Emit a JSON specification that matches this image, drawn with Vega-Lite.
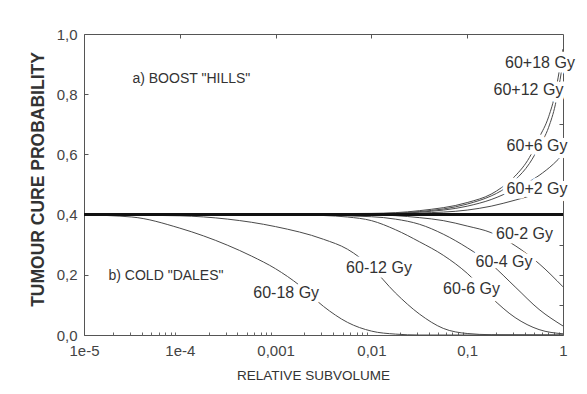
{
  "$schema": "https://vega.github.io/schema/vega-lite/v6.json",
  "autosize": "none",
  "width": 479,
  "height": 301,
  "padding": {"left": 84, "top": 34, "right": 24, "bottom": 59},
  "background": "white",
  "config": {
    "view": {"stroke": "#555", "strokeWidth": 1},
    "font": "Liberation Sans"
  },
  "datasets": {
    "curves": [
      {"s": "60-18", "v": 1e-5, "p": 0.399},
      {"s": "60-18", "v": 3.162e-5, "p": 0.392},
      {"s": "60-18", "v": 1e-4, "p": 0.355},
      {"s": "60-18", "v": 3.162e-4, "p": 0.298},
      {"s": "60-18", "v": 5.623e-4, "p": 0.262},
      {"s": "60-18", "v": 0.001, "p": 0.22},
      {"s": "60-18", "v": 0.001778, "p": 0.165},
      {"s": "60-18", "v": 0.003162, "p": 0.095},
      {"s": "60-18", "v": 0.005623, "p": 0.042},
      {"s": "60-18", "v": 0.01, "p": 0.013},
      {"s": "60-18", "v": 0.01778, "p": 0.003},
      {"s": "60-18", "v": 0.03162, "p": 0.0},
      {"s": "60-18", "v": 1, "p": 0.0},
      {"s": "60-12", "v": 1e-5, "p": 0.4},
      {"s": "60-12", "v": 1e-4, "p": 0.396},
      {"s": "60-12", "v": 3.162e-4, "p": 0.385},
      {"s": "60-12", "v": 0.001, "p": 0.36},
      {"s": "60-12", "v": 0.003162, "p": 0.318},
      {"s": "60-12", "v": 0.005623, "p": 0.285},
      {"s": "60-12", "v": 0.01, "p": 0.225},
      {"s": "60-12", "v": 0.01778, "p": 0.14},
      {"s": "60-12", "v": 0.03162, "p": 0.07},
      {"s": "60-12", "v": 0.05623, "p": 0.022},
      {"s": "60-12", "v": 0.1, "p": 0.005},
      {"s": "60-12", "v": 0.1778, "p": 0.001},
      {"s": "60-12", "v": 1, "p": 0.0},
      {"s": "60-6", "v": 1e-5, "p": 0.4},
      {"s": "60-6", "v": 0.001, "p": 0.4},
      {"s": "60-6", "v": 0.003162, "p": 0.397},
      {"s": "60-6", "v": 0.005623, "p": 0.392},
      {"s": "60-6", "v": 0.01, "p": 0.38},
      {"s": "60-6", "v": 0.01778, "p": 0.35},
      {"s": "60-6", "v": 0.03162, "p": 0.31},
      {"s": "60-6", "v": 0.05623, "p": 0.265},
      {"s": "60-6", "v": 0.1, "p": 0.205},
      {"s": "60-6", "v": 0.1778, "p": 0.125},
      {"s": "60-6", "v": 0.3162, "p": 0.058},
      {"s": "60-6", "v": 0.5623, "p": 0.018},
      {"s": "60-6", "v": 1, "p": 0.004},
      {"s": "60-4", "v": 1e-5, "p": 0.4},
      {"s": "60-4", "v": 0.001, "p": 0.4},
      {"s": "60-4", "v": 0.01, "p": 0.393},
      {"s": "60-4", "v": 0.01778, "p": 0.385},
      {"s": "60-4", "v": 0.03162, "p": 0.368},
      {"s": "60-4", "v": 0.05623, "p": 0.335},
      {"s": "60-4", "v": 0.1, "p": 0.29},
      {"s": "60-4", "v": 0.1778, "p": 0.235},
      {"s": "60-4", "v": 0.3162, "p": 0.16},
      {"s": "60-4", "v": 0.5623, "p": 0.085},
      {"s": "60-4", "v": 1, "p": 0.03},
      {"s": "60-2", "v": 1e-5, "p": 0.4},
      {"s": "60-2", "v": 0.01, "p": 0.399},
      {"s": "60-2", "v": 0.03162, "p": 0.39},
      {"s": "60-2", "v": 0.05623, "p": 0.38},
      {"s": "60-2", "v": 0.1, "p": 0.362},
      {"s": "60-2", "v": 0.1778, "p": 0.34},
      {"s": "60-2", "v": 0.3162, "p": 0.297},
      {"s": "60-2", "v": 0.5623, "p": 0.237},
      {"s": "60-2", "v": 1, "p": 0.16},
      {"s": "60+2", "v": 1e-5, "p": 0.4},
      {"s": "60+2", "v": 0.01, "p": 0.401},
      {"s": "60+2", "v": 0.03162, "p": 0.405},
      {"s": "60+2", "v": 0.1, "p": 0.415},
      {"s": "60+2", "v": 0.1778, "p": 0.428},
      {"s": "60+2", "v": 0.3162, "p": 0.448},
      {"s": "60+2", "v": 0.5623, "p": 0.47},
      {"s": "60+2", "v": 1, "p": 0.49},
      {"s": "60+6", "v": 1e-5, "p": 0.4},
      {"s": "60+6", "v": 0.01, "p": 0.402},
      {"s": "60+6", "v": 0.03162, "p": 0.408},
      {"s": "60+6", "v": 0.1, "p": 0.428},
      {"s": "60+6", "v": 0.1778, "p": 0.45},
      {"s": "60+6", "v": 0.3162, "p": 0.485},
      {"s": "60+6", "v": 0.5623, "p": 0.53},
      {"s": "60+6", "v": 0.7943, "p": 0.568},
      {"s": "60+6", "v": 1, "p": 0.60},
      {"s": "60+12", "v": 1e-5, "p": 0.4},
      {"s": "60+12", "v": 0.01, "p": 0.403},
      {"s": "60+12", "v": 0.03162, "p": 0.41},
      {"s": "60+12", "v": 0.1, "p": 0.435},
      {"s": "60+12", "v": 0.1778, "p": 0.462},
      {"s": "60+12", "v": 0.2291, "p": 0.48},
      {"s": "60+12", "v": 0.3162, "p": 0.515},
      {"s": "60+12", "v": 0.4467, "p": 0.57},
      {"s": "60+12", "v": 0.5623, "p": 0.625},
      {"s": "60+12", "v": 0.7079, "p": 0.69},
      {"s": "60+12", "v": 0.8318, "p": 0.765},
      {"s": "60+12", "v": 0.912, "p": 0.83},
      {"s": "60+12", "v": 1, "p": 0.91},
      {"s": "60+18", "v": 1e-5, "p": 0.4},
      {"s": "60+18", "v": 0.01, "p": 0.404},
      {"s": "60+18", "v": 0.03162, "p": 0.413},
      {"s": "60+18", "v": 0.1, "p": 0.44},
      {"s": "60+18", "v": 0.1778, "p": 0.468},
      {"s": "60+18", "v": 0.2291, "p": 0.49},
      {"s": "60+18", "v": 0.3162, "p": 0.528},
      {"s": "60+18", "v": 0.4467, "p": 0.59},
      {"s": "60+18", "v": 0.5623, "p": 0.655},
      {"s": "60+18", "v": 0.7079, "p": 0.725},
      {"s": "60+18", "v": 0.8318, "p": 0.805},
      {"s": "60+18", "v": 0.912, "p": 0.875},
      {"s": "60+18", "v": 1, "p": 0.95}
    ],
    "base": [
      {"v": 1e-5, "p": 0.4},
      {"v": 1, "p": 0.4}
    ],
    "labels": [
      {"label": "60+18 Gy", "v": 0.575, "p": 0.904, "kind": "curve"},
      {"label": "60+12 Gy", "v": 0.436, "p": 0.814, "kind": "curve"},
      {"label": "60+6 Gy", "v": 0.536, "p": 0.628, "kind": "curve"},
      {"label": "60+2 Gy", "v": 0.536, "p": 0.485, "kind": "curve"},
      {"label": "60-2 Gy", "v": 0.396, "p": 0.336, "kind": "curve"},
      {"label": "60-4 Gy", "v": 0.242, "p": 0.243, "kind": "curve"},
      {"label": "60-6 Gy", "v": 0.111, "p": 0.153, "kind": "curve"},
      {"label": "60-12 Gy", "v": 0.012, "p": 0.223, "kind": "curve"},
      {"label": "60-18 Gy", "v": 0.00129, "p": 0.14, "kind": "curve"},
      {"label": "a) BOOST \"HILLS\"", "v": 0.000132, "p": 0.85, "kind": "note"},
      {"label": "b) COLD \"DALES\"", "v": 0.0000718, "p": 0.196, "kind": "note"}
    ]
  },
  "resolve": {"axis": {"x": "independent", "y": "independent"}},
  "layer": [
    {
      "data": {"name": "curves"},
      "mark": {"type": "line", "color": "#4a4a4a", "strokeWidth": 1, "interpolate": "monotone"},
      "encoding": {
        "x": {
          "field": "v", "type": "quantitative",
          "scale": {"type": "log", "domain": [1e-5, 1], "nice": false},
          "axis": {
            "orient": "bottom",
            "values": [1e-5, 1e-4, 0.001, 0.01, 0.1, 1],
            "labelExpr": "datum.value < 0.0005 ? (datum.value < 0.00005 ? '1e-5' : '1e-4') : replace(format(datum.value, '~g'), '.', ',')",
            "ticks": false, "tickSize": 0, "labelPadding": 8,
            "labelFont": "Liberation Sans", "labelFontSize": 15, "labelColor": "#444",
            "labelFlush": false, "labelOverlap": false,
            "domainColor": "#555", "grid": false,
            "title": "RELATIVE SUBVOLUME",
            "titleFont": "Liberation Sans", "titleFontSize": 13.5, "titleFontWeight": "normal", "titleColor": "#333",
            "titleX": 229, "titleY": 40, "titleBaseline": "middle", "titleAnchor": "middle"
          }
        },
        "y": {
          "field": "p", "type": "quantitative",
          "scale": {"domain": [0, 1], "nice": false, "zero": false},
          "axis": {
            "orient": "left",
            "values": [0, 0.2, 0.4, 0.6, 0.8, 1.0],
            "labelExpr": "replace(format(datum.value, '.1f'), '.', ',')",
            "ticks": false, "tickSize": 0, "labelPadding": 7,
            "labelFont": "Liberation Sans", "labelFontSize": 15, "labelColor": "#444",
            "labelFlush": false, "labelOverlap": false,
            "domainColor": "#555", "grid": false,
            "title": "TUMOUR  CURE  PROBABILITY",
            "titleFont": "Liberation Sans", "titleFontSize": 17.5, "titleFontWeight": "bold", "titleColor": "#333",
            "titleX": -46, "titleY": 145, "titleAngle": -90, "titleAlign": "center", "titleBaseline": "middle", "titleAnchor": "middle"
          }
        },
        "detail": {"field": "s"}
      }
    },
    {
      "data": {"name": "base"},
      "mark": {"type": "line", "color": "#111", "strokeWidth": 3},
      "encoding": {
        "x": {
          "field": "v", "type": "quantitative",
          "axis": {"orient": "top", "values": [1e-4, 0.001, 0.01, 0.1], "labels": false, "domain": false, "grid": false, "ticks": true, "tickSize": -4, "tickColor": "#555", "title": null}
        },
        "y": {
          "field": "p", "type": "quantitative",
          "axis": {"orient": "right", "values": [0.1, 0.2, 0.3, 0.4, 0.5, 0.6, 0.7, 0.8, 0.9], "labels": false, "domain": false, "grid": false, "ticks": true, "tickSize": -4, "tickColor": "#555", "title": null}
        }
      }
    },
    {
      "data": {"name": "labels"},
      "mark": {"type": "text", "fontSize": 16, "font": "Liberation Sans", "stroke": "white", "strokeWidth": 9, "strokeJoin": "round", "fill": "white", "align": "center", "baseline": "middle"},
      "encoding": {
        "x": {
          "field": "v", "type": "quantitative",
          "axis": {"orient": "bottom", "values": [2e-5, 3e-5, 4e-5, 5e-5, 6e-5, 7e-5, 8e-5, 9e-5, 2e-4, 3e-4, 4e-4, 5e-4, 6e-4, 7e-4, 8e-4, 9e-4, 0.002, 0.003, 0.004, 0.005, 0.006, 0.007, 0.008, 0.009, 0.02, 0.03, 0.04, 0.05, 0.06, 0.07, 0.08, 0.09, 0.2, 0.3, 0.4, 0.5, 0.6, 0.7, 0.8, 0.9], "labels": false, "domain": false, "grid": false, "ticks": true, "tickSize": -3, "tickColor": "#666", "title": null}
        },
        "y": {
          "field": "p", "type": "quantitative",
          "axis": {"orient": "left", "values": [0.2, 0.4, 0.6, 0.8], "labels": false, "domain": false, "grid": false, "ticks": true, "tickSize": -4, "tickColor": "#555", "title": null}
        },
        "text": {"field": "label"},
        "size": {"condition": {"test": "datum.kind === 'note'", "value": 14}, "value": 16}
      }
    },
    {
      "data": {"name": "labels"},
      "mark": {"type": "text", "fontSize": 16, "font": "Liberation Sans", "fill": "#333", "align": "center", "baseline": "middle"},
      "encoding": {
        "x": {"field": "v", "type": "quantitative", "axis": null},
        "y": {"field": "p", "type": "quantitative", "axis": null},
        "text": {"field": "label"},
        "size": {"condition": {"test": "datum.kind === 'note'", "value": 14}, "value": 16}
      }
    }
  ]
}
